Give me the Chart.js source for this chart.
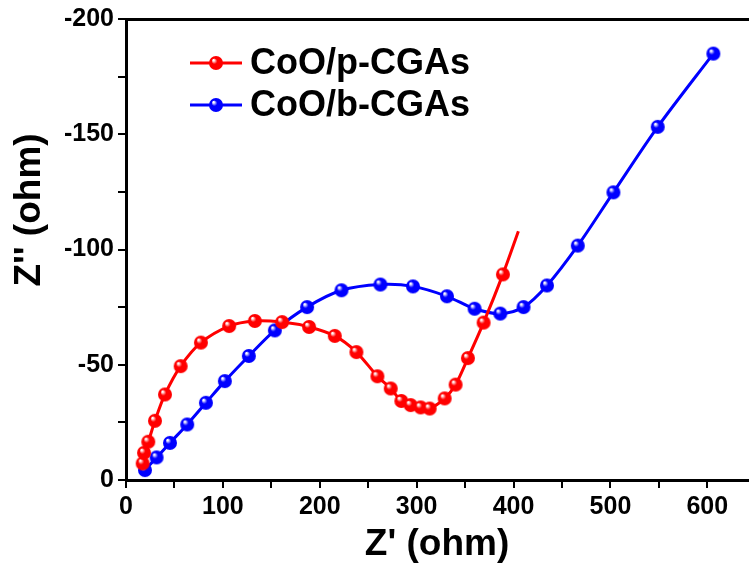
<!DOCTYPE html>
<html>
<head>
<meta charset="utf-8">
<script src="https://cdn.jsdelivr.net/npm/chart.js@4/dist/chart.umd.min.js"></script>
<style>
  html, body { margin: 0; padding: 0; background: #fff; overflow: hidden; }
  #wrap { width: 749px; height: 571px; overflow: hidden; }
</style>
</head>
<body>
<div id="wrap"><canvas id="myChart" width="758" height="571"></canvas></div>
<script>
// series data (Z' ohm, Z'' ohm)
const pX = [17.2, 18.6, 23, 29.9, 40.2, 56.4, 77.3, 106.5, 133, 161.1, 189, 215.5, 237.8, 259.5, 273.2, 284.2, 293.8, 304.1, 313.4, 328.9, 340.2, 352.9, 369.1, 389, 405];
const pY = [-7.2, -11.8, -16.6, -25.7, -37.1, -49.4, -59.6, -66.8, -69, -68.5, -66.4, -62.5, -55.5, -45, -39.7, -34.3, -32.5, -31.5, -31, -35.4, -41.4, -52.9, -68.3, -89.2, -107.9];
const bX = [19.6, 31.6, 45.4, 63.2, 82.5, 102, 126.8, 153.6, 186.9, 222.4, 262.6, 296.2, 331.3, 359.8, 386.3, 410.3, 434.5, 466.3, 503.1, 548.8, 606.2];
const bY = [-4.3, -9.8, -16.1, -24.1, -33.5, -42.9, -53.8, -64.9, -75, -82.3, -84.8, -84, -79.7, -74.3, -72.2, -75, -84.4, -101.7, -124.8, -153.2, -185];
const names = ['CoO/p-CGAs', 'CoO/b-CGAs'];
const colors = ['#ff0000', '#0000ff'];

const FONT = '"Liberation Sans", Arial, sans-serif';

// shaded ball marker
function ball(color, r) {
  const c = document.createElement('canvas');
  c.width = c.height = r * 2 + 2;
  const g = c.getContext('2d');
  const cx = r + 1;
  const grad = g.createRadialGradient(cx - r * 0.35, cx - r * 0.4, r * 0.1, cx, cx, r);
  grad.addColorStop(0, '#ffffff');
  grad.addColorStop(0.35, color);
  grad.addColorStop(1, color);
  g.fillStyle = grad;
  g.beginPath();
  g.arc(cx, cx, r, 0, Math.PI * 2);
  g.fill();
  return c;
}
const balls = colors.map(c => ball(c, 7));

function toPoints(xs, ys) {
  return xs.map((x, i) => ({ x: x, y: ys[i] }));
}

// legend inside the plot + y title (sits above centre in the original)
const extras = {
  id: 'extras',
  afterDraw(chart) {
    const ctx = chart.ctx;
    const rows = [63, 105];
    ctx.save();
    rows.forEach((y, i) => {
      ctx.strokeStyle = colors[i];
      ctx.lineWidth = 3;
      ctx.beginPath();
      ctx.moveTo(190, y);
      ctx.lineTo(242, y);
      ctx.stroke();
      ctx.drawImage(balls[i], 216 - 8, y - 8);
      ctx.fillStyle = '#000';
      ctx.font = 'bold 36px ' + FONT;
      ctx.textBaseline = 'middle';
      ctx.fillText(names[i], 250, y + 1);
    });
    ctx.translate(30, 210);
    ctx.rotate(-Math.PI / 2);
    ctx.textAlign = 'center';
    ctx.font = 'bold 37px ' + FONT;
    ctx.fillText("Z'' (ohm)", 0, 0);
    ctx.restore();
  },
};

const ctx = document.getElementById('myChart');
const myChart = new Chart(ctx, {
  type: 'scatter',
  data: {
    datasets: [
      {
        label: names[0],
        data: toPoints(pX, pY),
        showLine: true,
        borderColor: colors[0],
        backgroundColor: colors[0],
        borderWidth: 3,
        tension: 0.3,
        pointStyle: balls[0],
        pointRadius: ctx => (ctx.dataIndex === pX.length - 1 ? 0 : 7),
      },
      {
        label: names[1],
        data: toPoints(bX, bY),
        showLine: true,
        borderColor: colors[1],
        backgroundColor: colors[1],
        borderWidth: 3,
        tension: 0.3,
        pointStyle: balls[1],
        pointRadius: 7,
      },
    ],
  },
  options: {
    responsive: false,
    animation: false,
    layout: { padding: { top: 18, left: 0, right: 0, bottom: 0 } },
    plugins: { legend: { display: false }, tooltip: { enabled: false } },
    scales: {
      x: {
        type: 'linear',
        min: 0,
        max: 642,
        afterFit: s => { s.height = 91; },
        border: { color: '#000', width: 3 },
        grid: { drawOnChartArea: false, color: '#000', lineWidth: 2, tickLength: 8 },
        ticks: {
          stepSize: 50,
          includeBounds: false,
          color: '#000',
          padding: 4,
          maxRotation: 0,
          autoSkip: false,
          font: { family: FONT, size: 25, weight: 'bold' },
          callback: v => (v % 100 === 0 ? v : ''),
        },
        title: {
          display: true,
          text: "Z' (ohm)",
          color: '#000',
          padding: { top: 0 },
          font: { family: FONT, size: 37, weight: 'bold' },
        },
      },
      x2: {
        type: 'linear',
        position: 'top',
        min: 0,
        max: 642,
        afterFit: s => { s.height = 0; },
        border: { color: '#000', width: 3 },
        grid: { display: false, drawTicks: false },
        ticks: { display: false },
      },
      y: {
        type: 'linear',
        min: -200,
        max: 0,
        reverse: true,
        afterFit: s => { s.width = 126; },
        border: { color: '#000', width: 3 },
        grid: { drawOnChartArea: false, color: '#000', lineWidth: 2, tickLength: 8 },
        ticks: {
          stepSize: 25,
          color: '#000',
          padding: 4,
          autoSkip: false,
          font: { family: FONT, size: 25, weight: 'bold' },
          callback: v => (v % 50 === 0 ? v : ''),
        },
        title: { display: false },
      },
    },
  },
  plugins: [extras],
});
</script>
</body>
</html>
